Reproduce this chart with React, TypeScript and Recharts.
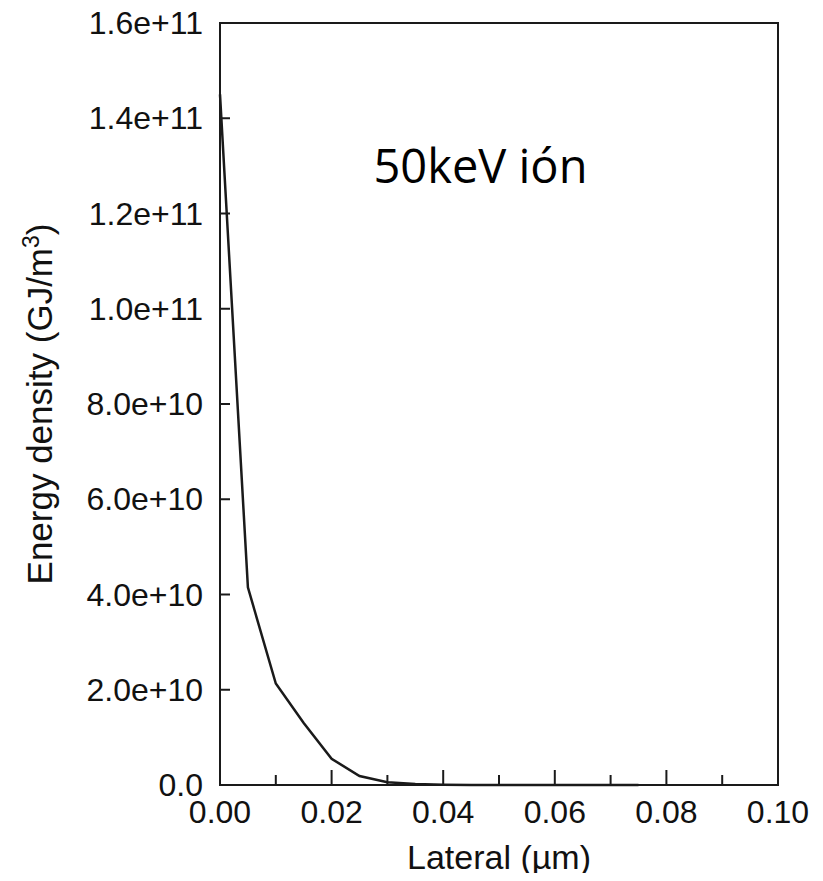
import { LineChart, Line, XAxis, YAxis, ReferenceArea, ReferenceDot, Label } from 'recharts';

const lateral = [0, 0.005, 0.01, 0.015, 0.02, 0.025, 0.03, 0.035, 0.04, 0.045, 0.05, 0.055, 0.06, 0.065, 0.07, 0.075];
const energy = [1.45e11, 4.15e10, 2.13e10, 1.3e10, 5.5e9, 1.9e9, 6e8, 2e8, 5e7, 0, 0, 0, 0, 0, 0, 0];

const xTicks = [0, 0.01, 0.02, 0.03, 0.04, 0.05, 0.06, 0.07, 0.08, 0.09, 0.1];
const yTicks = [0, 2e10, 4e10, 6e10, 8e10, 1e11, 1.2e11, 1.4e11, 1.6e11];

const data = lateral.map((x, i) => ({ x, y: energy[i] }));

const INK = '#1a1a1a';
const TICK_FONT = '"Liberation Sans", Arial, sans-serif';

const fmtY = (v: number) => (v === 0 ? '0.0' : v.toExponential(1));

function XTick(props: any) {
  const { x, y, payload } = props;
  const v = payload.value as number;
  const major = Math.round(v * 100) % 2 === 0;
  const axisY = y - 16;
  return (
    <g>
      <line x1={x} x2={x} y1={axisY} y2={axisY - (major ? 15 : 10)} stroke={INK} strokeWidth={2} />
      {major && (
        <text x={x} y={axisY + 38} textAnchor="middle" fontSize={32} fontFamily={TICK_FONT} fill="#111">
          {v.toFixed(2)}
        </text>
      )}
    </g>
  );
}

function YTick(props: any) {
  const { x, y, payload } = props;
  const axisX = x + 17;
  return (
    <g>
      <line x1={axisX} x2={axisX + 10} y1={y} y2={y} stroke={INK} strokeWidth={2} />
      <text x={x} y={y + 11} textAnchor="end" fontSize={32} fontFamily={TICK_FONT} fill="#111">
        {fmtY(payload.value)}
      </text>
    </g>
  );
}

function YTitle(props: any) {
  const { viewBox } = props;
  const cx = viewBox.x + 52;
  const cy = viewBox.y + viewBox.height / 2;
  return (
    <text
      x={cx}
      y={cy}
      transform={`rotate(-90 ${cx} ${cy})`}
      textAnchor="middle"
      fontSize={35}
      fontFamily={TICK_FONT}
      fill="#111"
    >
      Energy density (GJ/m
      <tspan dy={-13} fontSize={23}>3</tspan>
      <tspan dy={13}>)</tspan>
    </text>
  );
}

function Note(props: any) {
  const { viewBox } = props;
  return (
    <text x={viewBox.x} y={viewBox.y} fontSize={47} fontFamily='"Open Sans", sans-serif' fill="#000">
      50keV ión
    </text>
  );
}

export default function App() {
  return (
    <div style={{ margin: -8, background: '#fff' }}>
      <LineChart width={823} height={881} data={data} margin={{ top: 23, right: 45, bottom: 0, left: 0 }}>
        <XAxis
          dataKey="x"
          type="number"
          domain={[0, 0.1]}
          ticks={xTicks}
          interval={0}
          height={96}
          tickSize={0}
          tickMargin={16}
          tick={<XTick />}
          stroke={INK}
          strokeWidth={2}
        >
          <Label
            value="Lateral (µm)"
            position="insideBottom"
            offset={12}
            style={{ fontSize: 34, fontFamily: TICK_FONT, fill: '#111' }}
          />
        </XAxis>
        <YAxis
          type="number"
          domain={[0, 1.6e11]}
          ticks={yTicks}
          interval={0}
          width={220}
          tickSize={0}
          tickMargin={17}
          tick={<YTick />}
          stroke={INK}
          strokeWidth={2}
        >
          <Label content={<YTitle />} position="insideLeft" />
        </YAxis>
        <ReferenceArea x1={0} x2={0.1} y1={0} y2={1.6e11} fill="none" stroke={INK} strokeWidth={2} ifOverflow="visible" />
        <ReferenceDot x={0.0275} y={1.265e11} r={0} fill="none" stroke="none">
          <Label content={<Note />} />
        </ReferenceDot>
        <Line
          type="linear"
          dataKey="y"
          stroke={INK}
          strokeWidth={2.5}
          dot={false}
          isAnimationActive={false}
        />
      </LineChart>
    </div>
  );
}
